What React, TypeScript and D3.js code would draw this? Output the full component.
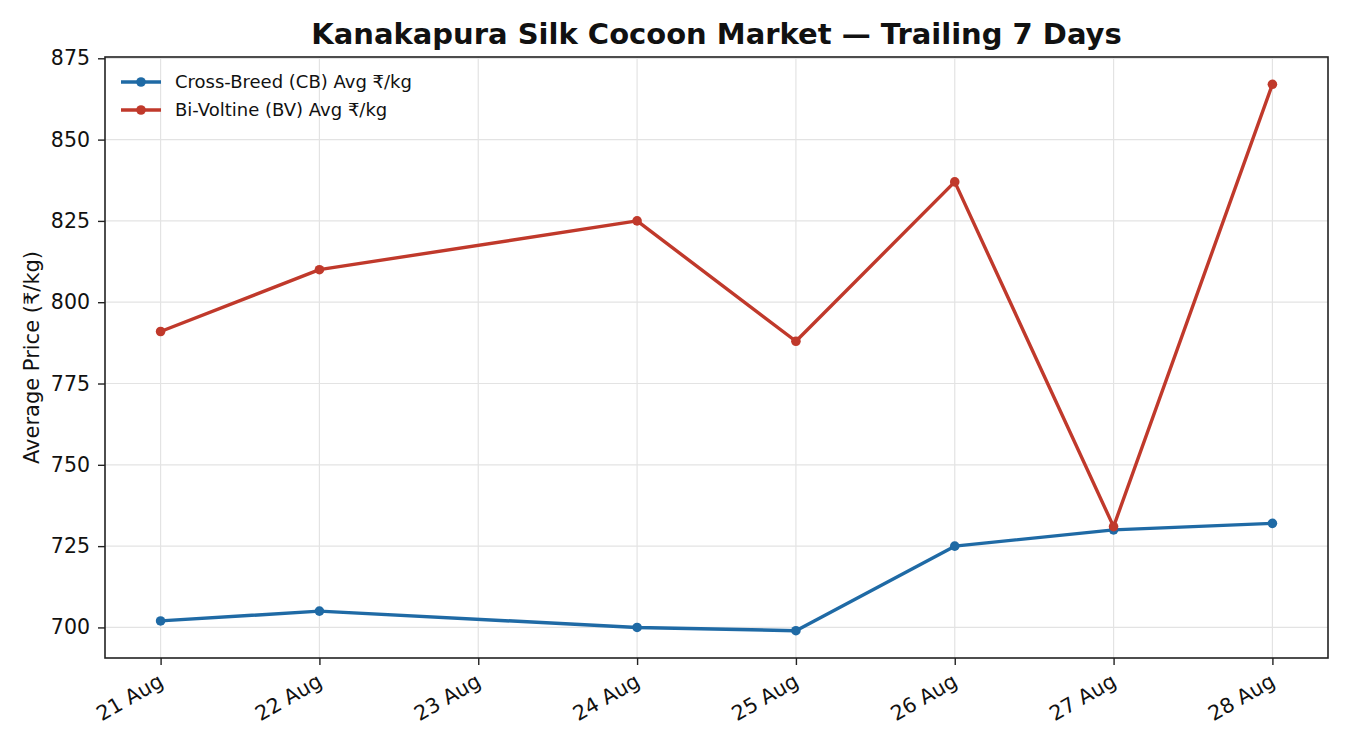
import { useEffect, useRef } from 'react';
import * as d3 from 'd3';

const dayLabels = ['21 Aug', '22 Aug', '23 Aug', '24 Aug', '25 Aug', '26 Aug', '27 Aug', '28 Aug'];
const sampleDays = [21, 22, 24, 25, 26, 27, 28];
const cbPrices = [702, 705, 700, 699, 725, 730, 732];
const bvPrices = [791, 810, 825, 788, 837, 731, 867];
const yTicks = [700, 725, 750, 775, 800, 825, 850, 875];

const series = [
  { name: 'Cross-Breed (CB) Avg ₹/kg', values: cbPrices, color: '#1f6aa5' },
  { name: 'Bi-Voltine (BV) Avg ₹/kg', values: bvPrices, color: '#c0392b' },
];

const width = 1334;
const height = 734;
const font = 'DejaVu Sans, sans-serif';

export default function App() {
  const svgRef = useRef<SVGSVGElement>(null);

  useEffect(() => {
    if (!svgRef.current) return;
    const root = d3.select(svgRef.current);
    root.selectAll('*').remove();

    const margin = { top: 49, right: 14, bottom: 84, left: 97 };
    const innerW = width - margin.left - margin.right;
    const innerH = height - margin.top - margin.bottom;

    const g = root.append('g').attr('transform', `translate(${margin.left},${margin.top})`);

    const x = d3.scaleLinear().domain([20.65, 28.35]).range([0, innerW]);
    const y = d3.scaleLinear().domain([690.6, 875.4]).range([innerH, 0]);

    // grid
    g.append('g')
      .selectAll('line')
      .data(yTicks)
      .join('line')
      .attr('x1', 0)
      .attr('x2', innerW)
      .attr('y1', d => y(d))
      .attr('y2', d => y(d))
      .attr('stroke', '#e3e3e3')
      .attr('stroke-width', 1.2);
    g.append('g')
      .selectAll('line')
      .data(dayLabels)
      .join('line')
      .attr('x1', (_, i) => x(21 + i))
      .attr('x2', (_, i) => x(21 + i))
      .attr('y1', 0)
      .attr('y2', innerH)
      .attr('stroke', '#e3e3e3')
      .attr('stroke-width', 1.2);

    // lines
    series.forEach(s => {
      const pts = s.values.map((v, i) => [sampleDays[i], v] as [number, number]);
      const line = d3.line<[number, number]>().x(d => x(d[0])).y(d => y(d[1]));
      g.append('path')
        .datum(pts)
        .attr('d', line)
        .attr('fill', 'none')
        .attr('stroke', s.color)
        .attr('stroke-width', 3.4)
        .attr('stroke-linejoin', 'round');
      g.append('g')
        .selectAll('circle')
        .data(pts)
        .join('circle')
        .attr('cx', d => x(d[0]))
        .attr('cy', d => y(d[1]))
        .attr('r', 4.8)
        .attr('fill', s.color);
    });

    // frame
    g.append('rect')
      .attr('width', innerW)
      .attr('height', innerH)
      .attr('fill', 'none')
      .attr('stroke', '#222')
      .attr('stroke-width', 1.6);

    // y axis
    const yAxis = g.append('g')
      .call(d3.axisLeft(y).tickValues(yTicks).tickSize(7).tickPadding(8));
    yAxis.select('.domain').remove();
    yAxis.selectAll('line').attr('stroke', '#222').attr('stroke-width', 1.4);
    yAxis.selectAll('text')
      .attr('font-family', font)
      .attr('font-size', 20.5)
      .attr('fill', '#111');

    // x axis
    const xAxis = g.append('g')
      .attr('transform', `translate(0,${innerH})`)
      .call(
        d3.axisBottom(x)
          .tickValues(dayLabels.map((_, i) => 21 + i))
          .tickFormat((_, i) => dayLabels[i])
          .tickSize(7)
      );
    xAxis.select('.domain').remove();
    xAxis.selectAll('line').attr('stroke', '#222').attr('stroke-width', 1.4);
    xAxis.selectAll('text')
      .attr('font-family', font)
      .attr('font-size', 20.5)
      .attr('fill', '#111')
      .attr('text-anchor', 'end')
      .attr('dy', null)
      .attr('y', 0)
      .attr('dominant-baseline', 'hanging')
      .attr('transform', 'translate(-4,14) rotate(-30)');

    // y label
    g.append('text')
      .attr('transform', 'rotate(-90)')
      .attr('x', -innerH / 2)
      .attr('y', -66)
      .attr('text-anchor', 'middle')
      .attr('font-family', font)
      .attr('font-size', 21)
      .attr('fill', '#111')
      .text('Average Price (₹/kg)');

    // title
    g.append('text')
      .attr('x', innerW / 2)
      .attr('y', -13)
      .attr('text-anchor', 'middle')
      .attr('font-family', font)
      .attr('font-size', 29)
      .attr('font-weight', 'bold')
      .attr('fill', '#111')
      .text('Kanakapura Silk Cocoon Market — Trailing 7 Days');

    // legend
    const legend = g.append('g').attr('transform', 'translate(16,25)');
    series.forEach((s, i) => {
      const row = legend.append('g').attr('transform', `translate(0,${i * 28})`);
      row.append('line')
        .attr('x1', 0)
        .attr('x2', 40)
        .attr('stroke', s.color)
        .attr('stroke-width', 3.4);
      row.append('circle').attr('cx', 20).attr('r', 4.8).attr('fill', s.color);
      row.append('text')
        .attr('x', 54)
        .attr('dy', '0.35em')
        .attr('font-family', font)
        .attr('font-size', 18)
        .attr('fill', '#111')
        .text(s.name);
    });
  }, []);

  return <svg ref={svgRef} width={width} height={height} style={{ display: 'block' }} />;
}
